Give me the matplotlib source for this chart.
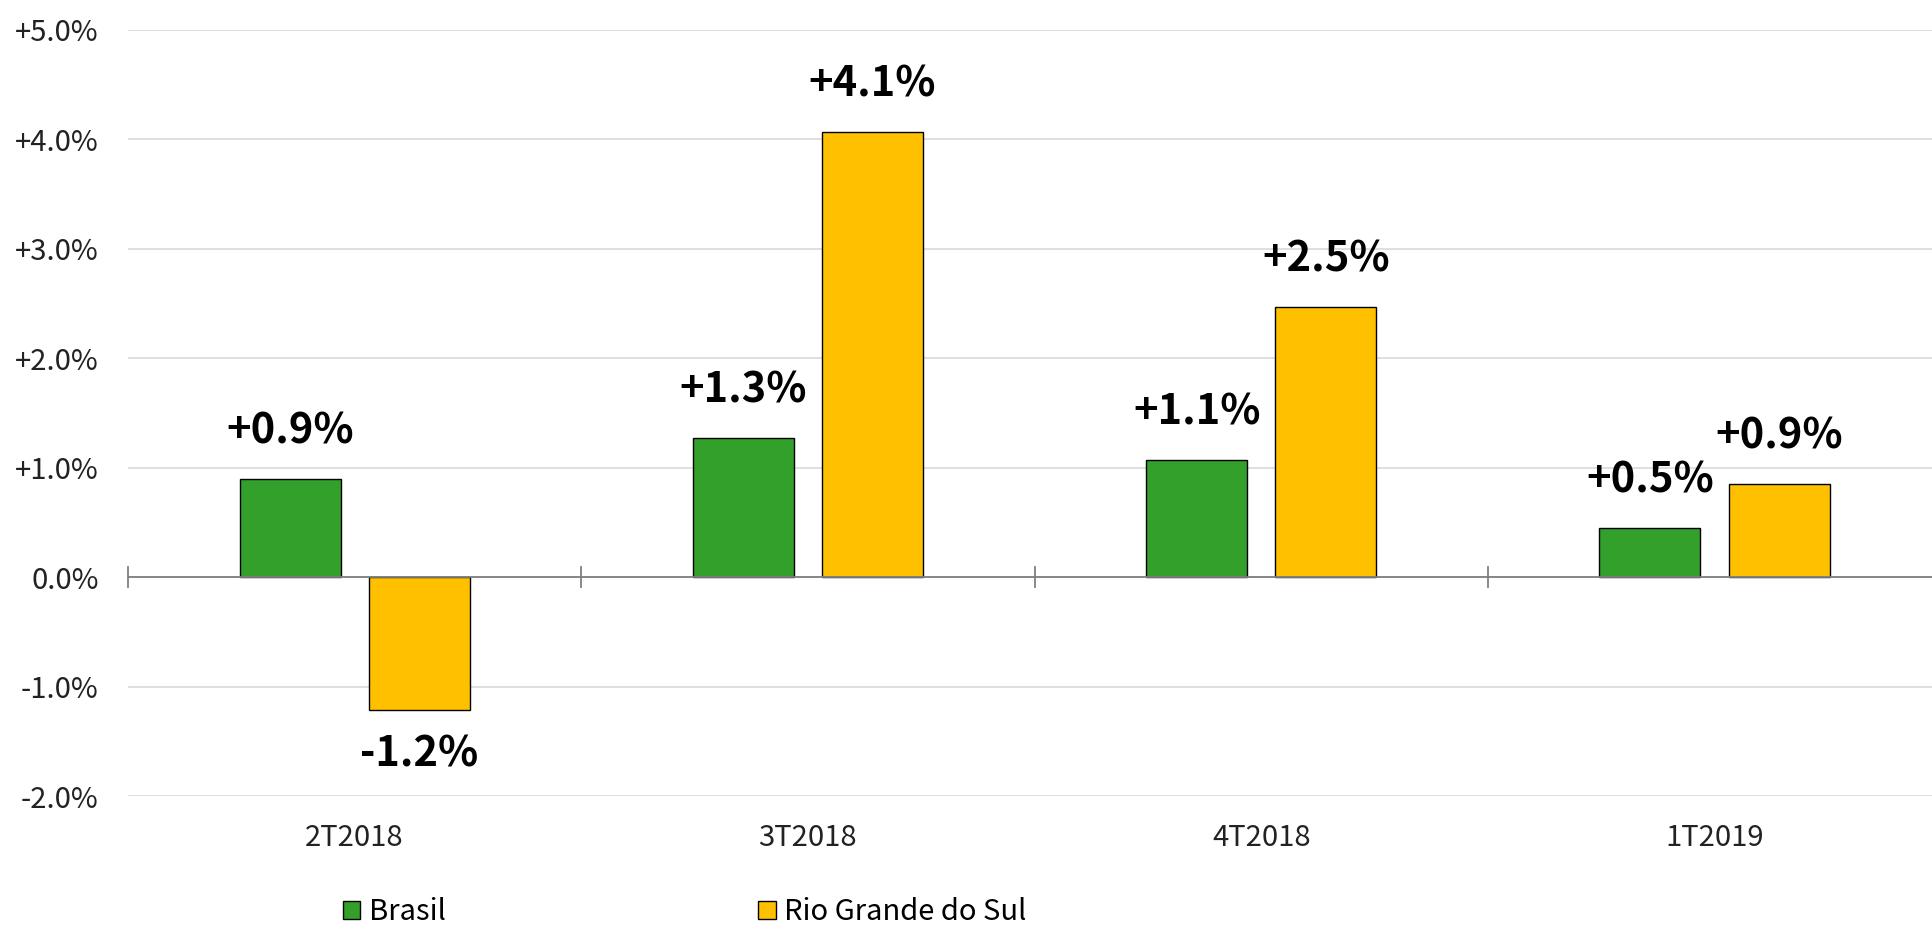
import matplotlib
matplotlib.use('Agg')
import matplotlib.pyplot as plt
import matplotlib.transforms as mtransforms
import numpy as np

plt.rcParams['font.family'] = ['Noto Sans CJK JP', 'DejaVu Sans']

quarters = ['2T2018', '3T2018', '4T2018', '1T2019']
brasil = [0.90, 1.27, 1.07, 0.45]
rio_grande = [-1.21, 4.07, 2.47, 0.85]
brasil_labels = ['+0.9%', '+1.3%', '+1.1%', '+0.5%']
rio_labels = ['-1.2%', '+4.1%', '+2.5%', '+0.9%']
y_ticks = [-2, -1, 0, 1, 2, 3, 4, 5]

GREEN = '#33A02C'
YELLOW = '#FFC000'

fig = plt.figure(figsize=(19.33, 9.30), dpi=100)
ax = fig.add_axes([128 / 1933, 0.1437, 1 - 128 / 1933, 0.968 - 0.1437])

x = np.arange(len(quarters))
width = 0.223
off = 0.1425
b1 = ax.bar(x - off, brasil, width, color=GREEN, edgecolor='black', linewidth=1, zorder=3)
b2 = ax.bar(x + off, rio_grande, width, color=YELLOW, edgecolor='black', linewidth=1, zorder=3)

for bars, labels in ((b1, brasil_labels), (b2, rio_labels)):
    for rect, lab in zip(bars, labels):
        h = rect.get_height()
        cx = rect.get_x() + rect.get_width() / 2
        if h >= 0:
            ax.annotate(lab, (cx, h), xytext=(0, 19), textcoords='offset points',
                        ha='center', va='bottom', fontsize=30, fontweight='bold')
        else:
            ax.annotate(lab, (cx, h), xytext=(0, -17), textcoords='offset points',
                        ha='center', va='top', fontsize=30, fontweight='bold')

ax.set_ylim(-2, 5)
ax.set_xlim(-0.5, 3.482)
ax.set_yticks(y_ticks)
ax.set_yticklabels([('+' if v > 0 else '') + f'{v:.1f}%' for v in y_ticks], fontsize=21)
ax.tick_params(axis='y', length=0, pad=21, colors='#222222')
ax.yaxis.grid(True, color='#d9d9d9', linewidth=1.2, zorder=0)

for s in ax.spines.values():
    s.set_visible(False)
ax.axhline(0, color='#7f7f7f', linewidth=1.3, zorder=4)

# category boundary ticks on the zero line
ax.set_xticks(np.arange(len(quarters)) - 0.5)
ax.set_xticklabels([])
ax.tick_params(axis='x', length=0)
for b in np.arange(len(quarters)) - 0.5:
    ax.plot([b, b], [-0.09, 0.09], color='#7f7f7f', linewidth=1.3, zorder=4, clip_on=False)

trans = mtransforms.blended_transform_factory(ax.transData, ax.transAxes)
for xi, q in zip(x, quarters):
    ax.text(xi, -0.054, q, transform=trans, ha='center', va='center', fontsize=21, color='#222222')

fig.legend([b1, b2], ['Brasil', 'Rio Grande do Sul'], loc='center left',
           bbox_to_anchor=(343 / 1933, 0.019), ncol=2, frameon=False, fontsize=21,
           handlelength=0.6, handleheight=0.6, handletextpad=0.3, columnspacing=10.7,
           borderpad=0, borderaxespad=0)

fig.savefig('out.png', dpi=100)
